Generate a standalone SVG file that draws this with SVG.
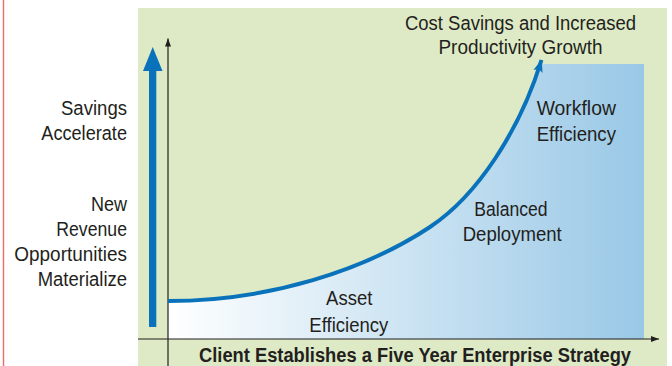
<svg xmlns="http://www.w3.org/2000/svg" width="672" height="366" viewBox="0 0 672 366">
  <style>
    .lbl { font-family: "Liberation Sans", Arial, sans-serif; font-size: 20px; fill: #231f20; }
    .mid { text-anchor: middle; }
    .end { text-anchor: end; }
    .title { font-weight: bold; }
    .axis { stroke: #231f20; stroke-width: 1.2; fill: none; }
  </style>
  <defs>
    <linearGradient id="growthFill" gradientUnits="userSpaceOnUse" x1="168" y1="0" x2="644" y2="0">
      <stop offset="0" stop-color="#ffffff"/>
      <stop offset="1" stop-color="#99c8e6"/>
    </linearGradient>
    <clipPath id="plotClip">
      <rect x="168" y="64" width="476" height="275"/>
    </clipPath>
    <marker id="axisHead" markerUnits="userSpaceOnUse" markerWidth="10" markerHeight="10" viewBox="0 0 10 10" refX="9" refY="5" orient="auto">
      <path d="M1,2 L9,5 L1,8 Z" fill="#231f20"/>
    </marker>
    <marker id="curveHead" markerUnits="userSpaceOnUse" markerWidth="14" markerHeight="14" viewBox="0 0 14 14" refX="12" refY="7" orient="auto">
      <path d="M0,2.2 L12.5,7 L0,11.8 L2.5,7 Z" fill="#0a72ba"/>
    </marker>
  </defs>

  <!-- page margin rule -->
  <line x1="3.5" y1="0" x2="3.5" y2="366" stroke="#ee6b63" stroke-width="1.4"/>

  <!-- chart panel -->
  <rect id="panel" x="138" y="8" width="529" height="358" fill="#ddeac5"/>

  <!-- shaded area under the growth curve -->
  <path id="area" clip-path="url(#plotClip)" fill="url(#growthFill)"
        d="M168,301 C270,301 365,270 430,227 C478,195 520,130 543,55 L644,55 L644,339 L168,339 Z"/>

  <g id="connectors">
    <!-- axes -->
    <line class="axis" x1="168" y1="366" x2="168" y2="38.5" marker-end="url(#axisHead)"/>
    <line class="axis" x1="138" y1="339" x2="659" y2="339" marker-end="url(#axisHead)"/>
    <!-- growth curve -->
    <path d="M168,301 C270,301 365,270 430,227 C478,195 520,130 541.5,60" fill="none" stroke="#0a72ba" stroke-width="4" marker-end="url(#curveHead)"/>
    <!-- vertical savings arrow -->
    <path d="M149,327 L149,71 L143,71 L152.7,47 L162.5,71 L156.3,71 L156.3,327 Z" fill="#0a72ba"/>
  </g>

  <g id="savings-accelerate">
    <text class="lbl end" x="127" y="115" textLength="66" lengthAdjust="spacingAndGlyphs">Savings</text>
    <text class="lbl end" x="127" y="139.5" textLength="85.7" lengthAdjust="spacingAndGlyphs">Accelerate</text>
  </g>

  <g id="new-revenue">
    <text class="lbl end" x="127" y="210.7" textLength="36" lengthAdjust="spacingAndGlyphs">New</text>
    <text class="lbl end" x="127" y="235.7" textLength="70.7" lengthAdjust="spacingAndGlyphs">Revenue</text>
    <text class="lbl end" x="127" y="261" textLength="112.7" lengthAdjust="spacingAndGlyphs">Opportunities</text>
    <text class="lbl end" x="127" y="286" textLength="89.3" lengthAdjust="spacingAndGlyphs">Materialize</text>
  </g>

  <g id="cost-savings">
    <text class="lbl mid" x="520.5" y="29.5" textLength="231" lengthAdjust="spacingAndGlyphs">Cost Savings and Increased</text>
    <text class="lbl mid" x="520.5" y="53.5" textLength="164" lengthAdjust="spacingAndGlyphs">Productivity Growth</text>
  </g>

  <g id="workflow-efficiency">
    <text class="lbl mid" x="576.3" y="114.7" textLength="79.3" lengthAdjust="spacingAndGlyphs">Workflow</text>
    <text class="lbl mid" x="576.3" y="141" textLength="79.3" lengthAdjust="spacingAndGlyphs">Efficiency</text>
  </g>

  <g id="balanced-deployment">
    <text class="lbl mid" x="511" y="216" textLength="73.3" lengthAdjust="spacingAndGlyphs">Balanced</text>
    <text class="lbl mid" x="512.2" y="241" textLength="99" lengthAdjust="spacingAndGlyphs">Deployment</text>
  </g>

  <g id="asset-efficiency">
    <text class="lbl mid" x="349.2" y="305" textLength="46.3" lengthAdjust="spacingAndGlyphs">Asset</text>
    <text class="lbl mid" x="348.8" y="331.5" textLength="79" lengthAdjust="spacingAndGlyphs">Efficiency</text>
  </g>

  <g id="strategy">
    <text class="lbl mid title" x="415" y="362" textLength="432" lengthAdjust="spacingAndGlyphs">Client Establishes a Five Year Enterprise Strategy</text>
  </g>
</svg>
